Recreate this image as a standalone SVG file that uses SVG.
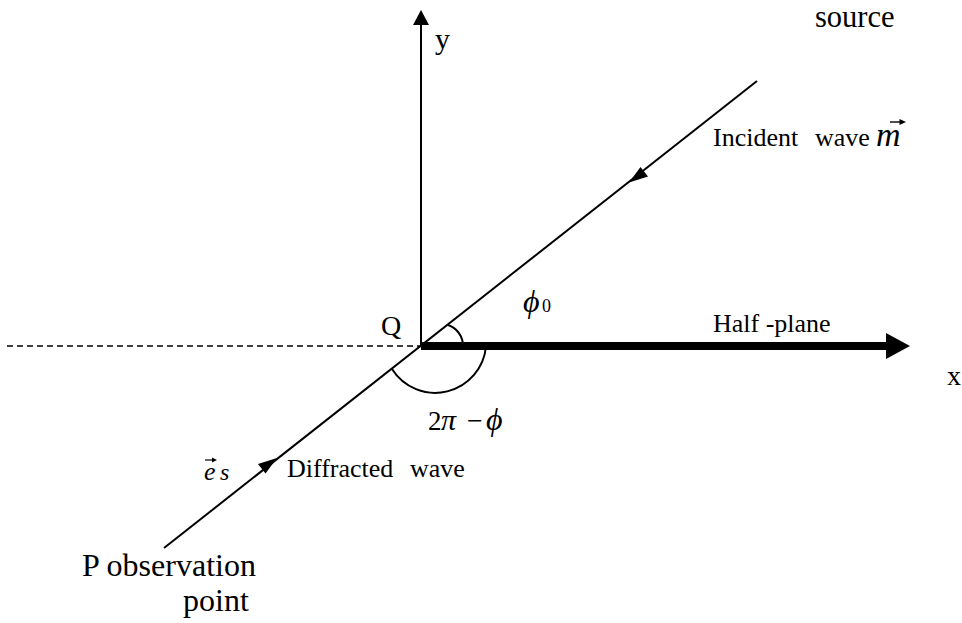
<svg xmlns="http://www.w3.org/2000/svg" width="962" height="623" viewBox="0 0 962 623">
<style>
.t{font-family:"Liberation Serif","Times New Roman",serif;fill:#000}
.i{font-style:italic}
.ln{stroke:#000;stroke-width:2;fill:none}
.hd{fill:#000;stroke:none}
</style>
<rect width="962" height="623" fill="#fff"/>
<g id="connectors">
<line id="dashed-axis" x1="7" y1="346" x2="421" y2="346" stroke="#000" stroke-width="1.6" stroke-dasharray="6,4"/>
<line id="y-axis" class="ln" x1="421" y1="346" x2="421" y2="25"/>
<polygon class="hd" points="413,25 421,10 429,25"/>
<line id="half-plane-line" x1="421" y1="346" x2="887" y2="346" stroke="#000" stroke-width="8"/>
<polygon class="hd" points="886,333 910,346 886,359"/>
<line id="ray" class="ln" x1="757" y1="81" x2="164" y2="548"/>
<path class="hd" d="M629,182.5 L640.5,167 L648,176.5 Z"/>
<path class="hd" d="M277,458 L265.5,473.5 L258,464 Z"/>
<path id="arc-phi0" class="ln" d="M448,325 A22,22 0 0 1 463,346"/>
<path id="arc-2pi" class="ln" d="M392,369 A51,51 0 0 0 486,346"/>
</g>
<g id="label-source"><text class="t" x="815" y="27" font-size="30.5">source</text></g>
<g id="label-y"><text class="t" x="435" y="49" font-size="30">y</text></g>
<g id="label-x"><text class="t" x="947" y="385" font-size="28">x</text></g>
<g id="label-Q"><text class="t" x="381" y="335" font-size="28">Q</text></g>
<g id="label-incident">
<text class="t" x="713" y="146" font-size="26">Incident</text>
<text class="t" x="815" y="146" font-size="26">wave</text>
<text class="t i" x="876" y="146" font-size="34">m</text>
<line x1="890" y1="122" x2="903" y2="122" stroke="#000" stroke-width="1.4"/>
<path class="hd" d="M906,122 L899.5,119 L899.5,125 Z"/>
</g>
<g id="label-phi0">
<text class="t i" x="523" y="312" font-size="32">ϕ</text>
<text class="t" x="542" y="312" font-size="18">0</text>
</g>
<g id="label-half-plane"><text class="t" x="713" y="332" font-size="26">Half -plane</text></g>
<g id="label-2pi-phi">
<text class="t" x="428" y="430" font-size="27">2</text>
<text class="t i" x="441" y="430" font-size="30">π</text>
<text class="t" x="467" y="430" font-size="28">−</text>
<text class="t i" x="486" y="430" font-size="32">ϕ</text>
</g>
<g id="label-diffracted">
<text class="t i" x="204" y="480" font-size="26">e</text>
<text class="t i" x="220" y="480" font-size="24">s</text>
<line x1="205" y1="460" x2="214" y2="460" stroke="#000" stroke-width="1.2"/>
<path class="hd" d="M217,460 L212,457.5 L212,462.5 Z"/>
<text class="t" x="287" y="477" font-size="26">Diffracted</text>
<text class="t" x="410" y="477" font-size="26">wave</text>
</g>
<g id="label-P">
<text class="t" x="82" y="576" font-size="32">P observation</text>
<text class="t" x="183" y="611" font-size="32">point</text>
</g>
</svg>
